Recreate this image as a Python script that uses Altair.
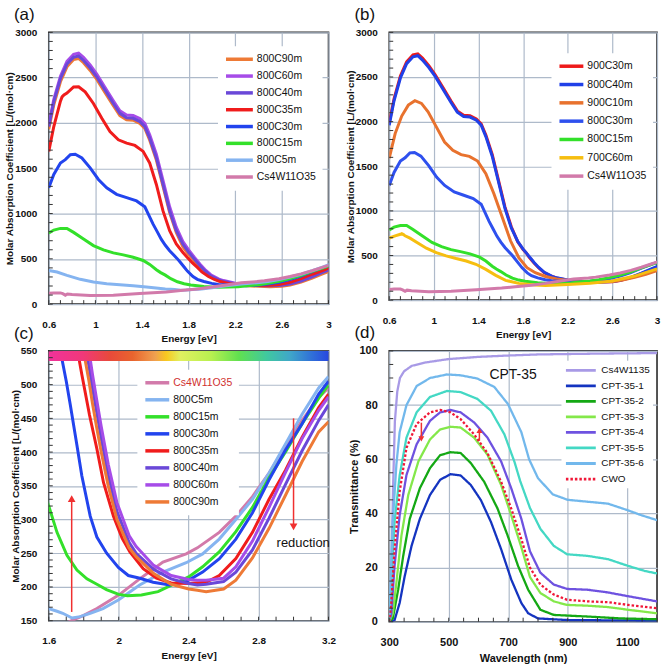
import altair as alt
import pandas as pd

FONT = "Liberation Sans"

# ---------------- panel (a) / (c) spectra : energy [eV] -> molar absorption ----------------
E_800C90m = [0.60,0.643,0.70,0.756,0.813,0.856,0.898,0.955,1.012,1.083,1.154,1.21,1.267,1.324,1.381,1.424,1.466,1.523,1.58,1.637,1.694,1.751,1.80,1.83,1.85,1.875,1.90,1.94,1.99,2.06,2.10,2.20,2.30,2.40,2.45,2.50,2.60,2.67,2.765,2.86,2.954,3.049,3.144,3.20]
A_800C90m = [1930,2200,2455,2620,2700,2712,2665,2580,2480,2335,2190,2080,2035,2030,1995,1940,1810,1590,1300,1010,790,630,548,505,472,435,400,350,300,258,245,220,204,197,195,193,197,210,243,287,336,386,430,445]

E_800C60m = E_800C90m
A_800C60m = [1980,2260,2515,2680,2758,2770,2725,2640,2540,2390,2245,2135,2088,2082,2048,1995,1870,1655,1365,1075,850,690,598,550,515,476,438,382,325,276,260,232,217,211,210,210,213,230,268,318,370,420,462,482]

E_800C40m = E_800C90m
A_800C40m = [1960,2234,2489,2650,2726,2738,2690,2606,2507,2361,2215,2106,2058,2051,2015,1960,1832,1613,1321,1029,810,660,572,527,495,458,420,366,312,266,250,226,212,205,203,204,208,222,255,302,352,402,447,470]

E_800C35m = [0.60,0.643,0.70,0.714,0.73,0.756,0.813,0.856,0.912,0.983,1.055,1.125,1.197,1.268,1.339,1.41,1.466,1.523,1.58,1.637,1.694,1.751,1.789,1.833,1.875,1.913,1.97,2.02,2.064,2.14,2.216,2.30,2.40,2.50,2.575,2.67,2.765,2.86,2.954,3.049,3.144,3.20]
A_800C35m = [1686,1960,2240,2288,2310,2330,2398,2400,2343,2215,2051,1905,1814,1777,1752,1686,1558,1321,1029,810,664,570,515,455,405,355,305,272,252,227,213,206,205,207,217,242,281,330,373,422,466,486]

E_800C30m = [0.60,0.643,0.70,0.742,0.785,0.827,0.884,0.955,1.026,1.097,1.182,1.268,1.353,1.424,1.495,1.53,1.566,1.60,1.637,1.67,1.70,1.723,1.761,1.789,1.837,1.875,1.931,1.998,2.055,2.121,2.197,2.291,2.386,2.48,2.576,2.67,2.765,2.86,2.954,3.049,3.144,3.20]
A_800C30m = [1285,1431,1558,1595,1650,1655,1613,1504,1376,1285,1212,1175,1139,1075,883,800,715,650,590,545,505,470,410,365,305,274,250,229,217,213,207,203,208,222,242,271,310,359,403,442,486,505]

E_800C15m = [0.60,0.643,0.70,0.756,0.813,0.898,0.983,1.069,1.154,1.239,1.324,1.41,1.466,1.523,1.56,1.60,1.647,1.704,1.761,1.818,1.875,1.93,2.00,2.05,2.13,2.225,2.32,2.40,2.48,2.575,2.67,2.765,2.86,2.954,3.049,3.144,3.20]
A_800C15m = [785,818,836,836,792,719,646,599,566,544,518,482,438,380,348,320,281,247,225,212,204,196,189,187,188,193,205,215,230,252,282,318,362,400,442,480,500]

E_800C5m = [0.60,0.671,0.756,0.87,0.983,1.097,1.21,1.324,1.438,1.52,1.60,1.647,1.68,1.733,1.78,1.837,1.91,2.00,2.12,2.253,2.386,2.48,2.575,2.67,2.765,2.86,2.954,3.049,3.144,3.20]
A_800C5m = [372,354,318,274,245,226,215,204,190,178,168,164,161,154,156,161,168,181,203,222,236,249,271,300,330,369,412,456,495,512]

E_Cs = [0.60,0.643,0.70,0.72,0.742,0.76,0.80,0.955,1.154,1.38,1.608,1.73,1.80,1.875,2.00,2.12,2.253,2.386,2.45,2.575,2.67,2.765,2.86,2.954,3.049,3.144,3.20]
A_Cs = [120,124,124,115,99,112,106,95,99,117,135,150,158,168,188,212,237,249,258,281,305,334,369,408,447,481,495]

# ---------------- panel (b) extra spectra ----------------
E_900C30m = E_800C90m
A_900C30m = [1985,2255,2510,2670,2748,2760,2712,2626,2525,2378,2230,2120,2072,2065,2030,1976,1850,1632,1340,1045,822,655,566,525,488,450,412,360,308,265,248,222,210,203,201,202,206,220,252,298,348,398,443,466]

E_900C10m = [0.60,0.653,0.712,0.771,0.83,0.889,0.948,1.022,1.096,1.17,1.244,1.318,1.392,1.466,1.539,1.613,1.687,1.761,1.835,1.909,2.00,2.10,2.20,2.30,2.40,2.50,2.60,2.70,2.80,2.90,3.00]
A_900C10m = [1590,1866,2062,2185,2234,2204,2110,1941,1772,1679,1630,1611,1558,1416,1190,928,665,477,364,308,265,238,220,210,205,205,210,228,255,290,330]

E_700C60m = [0.60,0.653,0.70,0.712,0.728,0.742,0.786,0.86,0.933,1.022,1.11,1.20,1.29,1.377,1.466,1.555,1.643,1.761,1.909,2.00,2.20,2.40,2.60,2.80,3.00]
A_700C60m = [695,721,738,745,735,721,695,638,582,533,496,466,439,402,345,278,222,188,169,165,175,190,215,270,350]

# ---------------- panel (d) transmittance : wavelength [nm] -> T [%] ----------------
W_Cs = [300,304,308,313,319,327,336,350,376,420,500,600,700,800,1000,1200]
T_Cs = [0,8,24,50,74,85,90,92.5,94.5,95.7,97,97.8,98.3,98.7,99,99.2]
W_1 = [300,318,335,352,375,403,437,471,506,540,574,608,642,676,710,744,767,800,900,1200]
T_1 = [0,0.6,6.9,16.8,28,38,46.8,52.4,54.5,54,50.5,44.9,36.8,26.8,15.6,6.9,3.1,1.2,0.6,0.4]
W_2 = [300,312,330,347,369,403,437,471,506,540,574,619,664,698,733,767,808,853,967,1080,1200]
T_2 = [0,1.2,11.8,24.3,38,49.3,56.7,61.5,62.6,62.3,58.6,51.7,41.8,31.8,20.6,11.8,4.4,2.5,1.9,1.2,0.9]
W_3 = [300,312,324,341,364,398,437,471,506,540,585,630,676,710,744,773,808,853,898,967,1035,1103,1200]
T_3 = [0,3,14.3,31.8,46.8,59.2,67.3,71,72,71.7,68,61.7,50.5,39.3,27.5,16.5,10.6,7.5,6.2,5.9,5.4,4.4,3.1]
W_4 = [300,307,318,335,358,392,437,471,506,540,585,630,676,710,744,773,808,853,898,967,1035,1103,1200]
T_4 = [0,3,20.6,39.3,54.2,65.5,74.2,77.3,78.2,77.3,73.6,68,59.2,49.3,38,26,18.1,13.7,12.1,11.8,10.8,9.4,7.5]
W_5 = [300,307,318,335,358,392,437,494,540,596,642,687,721,740,773,808,853,898,967,1035,1103,1160,1200]
T_5 = [0,14,37,54,68,77.3,83,85.2,84.8,82.3,77.9,69.2,59,52,42,34.3,28,24.9,24.3,23.1,20.6,18.7,17.8]
W_6 = [300,306,312,324,335,358,392,437,494,540,596,653,699,744,770,800,850,900,967,1035,1103,1148,1200]
T_6 = [2,20,37,58,70,80,87,90,91.3,91,89.8,86.7,80.4,70,60,53,47,45,44.3,43.6,41.1,39.3,37.5]
W_CWO = [300,307,318,335,358,392,437,471,506,540,585,630,676,710,744,773,808,853,898,967,1035,1103,1200]
T_CWO = [0,6.9,26.8,48,64.2,73,77.3,78.2,77.3,74.8,69.2,62.3,51.7,41.8,30.5,20,13.7,10,8.1,7.5,7.2,6.2,5]

# ---------------- series names / colours ----------------
NAMES_A = ["800C90m","800C60m","800C40m","800C35m","800C30m","800C15m","800C5m","Cs4W11O35"]
COLORS_A = ["#EE7A36","#A64CE8","#6A48D8","#F01C1C","#2244EE","#33E02A","#85B4F0","#D27AAA"]
NAMES_B = ["900C30m","800C40m","900C10m","800C30m","800C15m","700C60m","Cs4W11O35"]
COLORS_B = ["#EE1A1A","#2040E8","#E8722E","#2E50EE","#33E02A","#F6BE10","#D27AAA"]
NAMES_C = ["Cs4W11O35","800C5m","800C15m","800C30m","800C35m","800C40m","800C60m","800C90m"]
COLORS_C = ["#D27AAA","#85B4F0","#33E02A","#2244EE","#F01C1C","#6A48D8","#A64CE8","#EE7A36"]
NAMES_D = ["Cs4W1135","CPT-35-1","CPT-35-2","CPT-35-3","CPT-35-4","CPT-35-5","CPT-35-6","CWO"]
COLORS_D = ["#A89AE6","#1434C0","#14A814","#84E84A","#6E52E0","#44D8C4","#72B8EC","#F01838"]

# rainbow strip in (c)
RAINBOW_OFF = [0.0,0.12,0.22,0.30,0.38,0.42,0.47,0.58,0.68,0.78,0.86,0.94,1.0]
RAINBOW_COL = ["#F0329A","#F0387A","#E84A3A","#E8642E","#F0A050","#F8C820","#E0F060","#B8F050","#60E050","#40C8A0","#40A8C8","#3070D8","#2848E0"]

# annotations
ARROW_C_X = [1.731, 3.0]
ARROW_C_FROM = [163, 450]
ARROW_C_HEAD = [331, 289]
ARROW_D_X = [408, 603]
ARROW_D_FROM = [73.5, 66.8]
ARROW_D_HEAD = [67.5, 70.6]

spec_a = {"800C90m": (E_800C90m, A_800C90m), "800C60m": (E_800C60m, A_800C60m),
          "800C40m": (E_800C40m, A_800C40m), "800C35m": (E_800C35m, A_800C35m),
          "800C30m": (E_800C30m, A_800C30m), "800C15m": (E_800C15m, A_800C15m),
          "800C5m": (E_800C5m, A_800C5m), "Cs4W11O35": (E_Cs, A_Cs),
          "900C30m": (E_900C30m, A_900C30m), "900C10m": (E_900C10m, A_900C10m),
          "700C60m": (E_700C60m, A_700C60m)}
spec_d = {"Cs4W1135": (W_Cs, T_Cs), "CPT-35-1": (W_1, T_1), "CPT-35-2": (W_2, T_2),
          "CPT-35-3": (W_3, T_3), "CPT-35-4": (W_4, T_4), "CPT-35-5": (W_5, T_5),
          "CPT-35-6": (W_6, T_6), "CWO": (W_CWO, T_CWO)}


def long_df(names, table):
    rows = []
    for n in names:
        xs, ys = table[n]
        rows += [{"series": n, "x": a, "y": b} for a, b in zip(xs, ys)]
    return pd.DataFrame(rows)


def steps(a, b, s):
    n = int(round((b - a) / s))
    return [round(a + i * s, 4) for i in range(n + 1)]


def make_legend(lx, ly, k, rowpad, fs=10.5, sw=3.5, gap=2, pad=6, label_color="#111"):
    return alt.Legend(orient="none", legendX=lx - pad, legendY=ly, title=None,
                      symbolType="M-1,0H%.2f" % k, symbolSize=100, symbolStrokeWidth=sw,
                      labelOffset=(k - 1) * 5 + gap, labelFont=FONT, labelFontSize=fs, labelColor=label_color,
                      rowPadding=rowpad, padding=pad, fillColor="white")


def panel(df, names, colors, xdom, ydom, xvals, yvals, xfmt, yfmt, xtitle, ytitle, w, h, title,
          leg, minor_x, minor_y, extra=None, dashes=None, sw=3.0, lab=10, tit=10):
    xs = alt.Scale(domain=xdom, nice=False, zero=False)
    ys = alt.Scale(domain=ydom, nice=False, zero=False)
    enc = dict(
        x=alt.X("x:Q", scale=xs, axis=alt.Axis(values=xvals, format=xfmt, title=xtitle, grid=True,
                                               ticks=False, domain=False, labelPadding=15, titlePadding=5,
                                               labelFlush=False, labelFontSize=lab, titleFontSize=tit)),
        y=alt.Y("y:Q", scale=ys, axis=alt.Axis(values=yvals, format=yfmt, title=ytitle, grid=True, ticks=False,
                                               domain=False, labelPadding=12, titlePadding=0,
                                               labelFontSize=lab, titleFontSize=tit)),
        color=alt.Color("series:N", scale=alt.Scale(domain=names, range=colors), legend=leg),
    )
    if dashes:
        enc["strokeDash"] = alt.StrokeDash("series:N", scale=alt.Scale(domain=names, range=dashes), legend=leg)
    lines = alt.Chart(df).mark_line(strokeWidth=sw, clip=True).encode(**enc)
    # inward minor/major tick marks along the bottom and left frame
    tx = alt.Chart(pd.DataFrame({"v": minor_x})).mark_rule(color="#333", strokeWidth=1).encode(
        x=alt.X("v:Q", scale=xs, axis=None), y=alt.value(h), y2=alt.value(h - 4))
    ty = alt.Chart(pd.DataFrame({"v": minor_y})).mark_rule(color="#333", strokeWidth=1).encode(
        y=alt.Y("v:Q", scale=ys, axis=None), x=alt.value(0), x2=alt.value(4))
    layers = [lines] + (extra(xs, ys) if extra else []) + [tx, ty]
    return alt.layer(*layers).resolve_axis(x="independent", y="independent").properties(
        width=w, height=h,
        title=alt.TitleParams(title, anchor="start", frame="group", dx=-35, dy=26, fontSize=17,
                              fontWeight="normal", font=FONT, baseline="bottom", offset=12, color="#111"))


def arrows(xl, froml, headl, shapes, size, xs, ys):
    d = pd.DataFrame({"x": xl, "y": froml, "y2": headl, "shape": shapes})
    rule = alt.Chart(d).mark_rule(color="#F03030", strokeWidth=1.5).encode(
        x=alt.X("x:Q", scale=xs, axis=None), y=alt.Y("y:Q", scale=ys, axis=None), y2="y2:Q")
    head = alt.Chart(d).mark_point(filled=True, color="#F03030", opacity=1, size=size).encode(
        x=alt.X("x:Q", scale=xs, axis=None), y=alt.Y("y2:Q", scale=ys, axis=None),
        shape=alt.Shape("shape:N", scale=None, legend=None))
    return [rule, head]


YTITLE = "Molar Absorption Coefficient  [L/(mol\u00b7cm)"

# ---- (a)
df_a = long_df(NAMES_A, spec_a)
chart_a = panel(df_a, NAMES_A, COLORS_A, [0.6, 3.0], [0, 3000], steps(0.6, 3.0, 0.4), steps(0, 3000, 500),
                ".1~f", "d", "Energy [eV]", YTITLE, 281, 273, "(a)",
                make_legend(176, 14, 4.4, 2.9), steps(0.6, 3.0, 0.1), steps(0, 3000, 100))

# ---- (b)
df_b = long_df(NAMES_B, spec_a)
chart_b = panel(df_b, NAMES_B, COLORS_B, [0.6, 3.0], [0, 3000], steps(0.6, 3.0, 0.4), steps(0, 3000, 500),
                ".1~f", "d", "Energy [eV]", YTITLE, 269, 269, "(b)",
                make_legend(169, 21, 3.8, 4.4), steps(0.6, 3.0, 0.1), steps(0, 3000, 100))


# ---- (c)
def extra_c(xs, ys):
    grad = alt.Gradient(gradient="linear",
                        stops=[alt.GradientStop(offset=o, color=c) for o, c in zip(RAINBOW_OFF, RAINBOW_COL)],
                        x1=0, x2=1, y1=0, y2=0)
    bar = alt.Chart(pd.DataFrame({"x": [1.6], "x2": [3.2], "y": [535], "y2": [550]})).mark_rect(
        color=grad).encode(x=alt.X("x:Q", scale=xs, axis=None), x2="x2:Q",
                           y=alt.Y("y:Q", scale=ys, axis=None), y2="y2:Q")
    txt = alt.Chart(pd.DataFrame({"x": [2.903], "y": [265], "t": ["reduction"]})).mark_text(
        align="left", baseline="middle", font=FONT, fontSize=13, color="#111").encode(
        x=alt.X("x:Q", scale=xs, axis=None), y=alt.Y("y:Q", scale=ys, axis=None), text="t:N")
    return [bar] + arrows(ARROW_C_X, ARROW_C_FROM, ARROW_C_HEAD, ["triangle-up", "triangle-down"], 60, xs, ys) + [txt]


leg_c = make_legend(95, 19, 3.8, 3.1,
                    label_color=alt.ExprRef("datum.label === 'Cs4W11O35' ? '#D03030' : '#111'"))
df_c = long_df(NAMES_C, spec_a)
chart_c = panel(df_c, NAMES_C, COLORS_C, [1.6, 3.2], [150, 550], steps(1.6, 3.2, 0.4), steps(150, 550, 50),
                ".1~f", "d", "Energy [eV]", YTITLE, 281, 271, "(c)", leg_c,
                steps(1.6, 3.2, 0.1), steps(150, 550, 10), extra=extra_c)


# ---- (d)
def extra_d(xs, ys):
    txt = alt.Chart(pd.DataFrame({"x": [637], "y": [91], "t": ["CPT-35"]})).mark_text(
        align="left", baseline="middle", font=FONT, fontSize=14, color="#111").encode(
        x=alt.X("x:Q", scale=xs, axis=None), y=alt.Y("y:Q", scale=ys, axis=None), text="t:N")
    return arrows(ARROW_D_X, ARROW_D_FROM, ARROW_D_HEAD, ["triangle-down", "triangle-up"], 35, xs, ys) + [txt]


DASHES_D = [[1, 0]] * 7 + [[2.5, 2]]
df_d = long_df(NAMES_D, spec_d)
chart_d = panel(df_d, NAMES_D, COLORS_D, [300, 1200], [0, 100], [300, 500, 700, 900, 1100], steps(0, 100, 20),
                "d", "d", "Wavelength (nm)", "Transmittance (%)", 269, 272, "(d)",
                make_legend(176, 10, 5, 2.6, fs=10, sw=2.8, gap=4, pad=3), steps(300, 1200, 50), steps(0, 100, 5),
                extra=extra_d, dashes=DASHES_D, sw=2.3, lab=11, tit=11)

chart = alt.concat(chart_a, chart_b, chart_c, chart_d, columns=2, spacing={"column": 61, "row": 47},
                   bounds="flush").resolve_scale(
    x="independent", y="independent", color="independent", strokeDash="independent", shape="independent"
).resolve_legend(color="independent", strokeDash="independent").properties(
    padding={"left": 3, "top": 4, "right": 0, "bottom": 0}, background="white"
).configure_view(stroke="#2a2a2a", strokeWidth=1.6).configure_axis(
    labelFont=FONT, titleFont=FONT, labelFontWeight="bold", titleFontWeight="bold",
    labelColor="#111", titleColor="#111", gridColor="#AEBACA", gridWidth=1.2
)

chart.save("out.html", embed_options={"renderer": "svg", "actions": False})
